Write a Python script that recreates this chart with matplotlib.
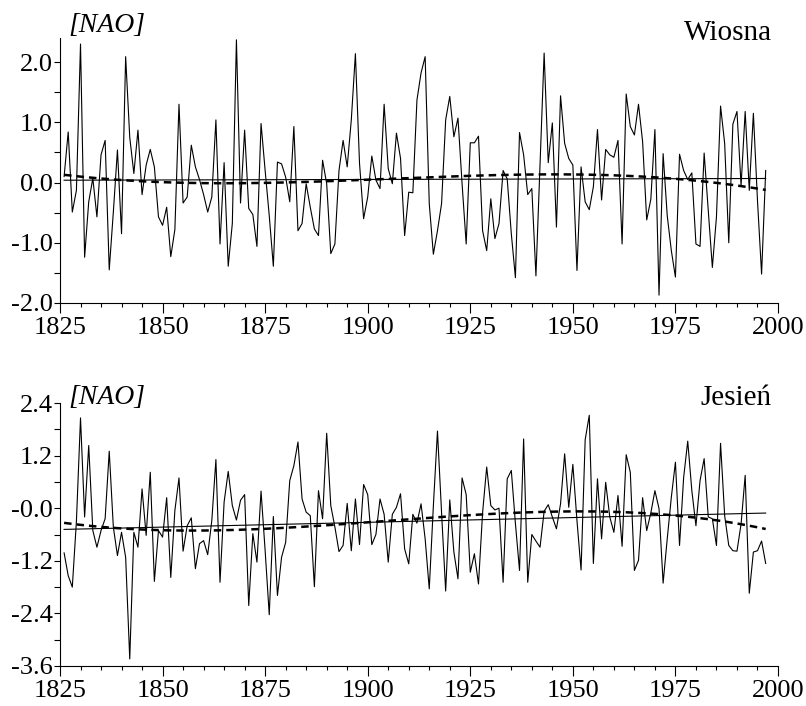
import numpy as np
import matplotlib.pyplot as plt
from matplotlib.ticker import MultipleLocator, FixedLocator, FixedFormatter

plt.rcParams['font.family'] = ['Liberation Serif', 'DejaVu Serif']
plt.rcParams['axes.unicode_minus'] = False

years = np.arange(1826, 1998)

# wiosenny indeks NAO, 1826-1997
wiosna = [
    0.10, 0.84, -0.49, -0.13, 2.30, -1.24, -0.32, 0.07, -0.57, 0.46,    # 1826-1835
    0.70, -1.45, -0.49, 0.54, -0.85, 2.09, 0.75, 0.15, 0.87, -0.20,     # 1836-1845
    0.29, 0.55, 0.26, -0.57, -0.71, -0.41, -1.23, -0.78, 1.30, -0.34,   # 1846-1855
    -0.24, 0.62, 0.26, 0.05, -0.20, -0.49, -0.24, 1.04, -1.02, 0.33,    # 1856-1865
    -1.39, -0.68, 2.37, -0.34, 0.87, -0.43, -0.53, -1.06, 0.98, 0.20,   # 1866-1875
    -0.55, -1.39, 0.34, 0.31, 0.09, -0.32, 0.93, -0.80, -0.68, -0.02,   # 1876-1885
    -0.41, -0.77, -0.88, 0.37, -0.02, -1.18, -1.02, 0.20, 0.70, 0.26,   # 1886-1895
    1.04, 2.14, 0.32, -0.60, -0.24, 0.44, 0.04, -0.10, 1.30, 0.23,      # 1896-1905
    -0.02, 0.82, 0.40, -0.88, -0.16, -0.17, 1.37, 1.82, 2.09, -0.35,    # 1906-1915
    -1.19, -0.80, -0.35, 1.04, 1.43, 0.76, 1.07, -0.02, -1.02, 0.66,    # 1916-1925
    0.66, 0.77, -0.80, -1.13, -0.27, -0.93, -0.68, 0.20, 0.06, -0.85,   # 1926-1935
    -1.58, 0.83, 0.46, -0.20, -0.10, -1.55, 0.30, 2.15, 0.33, 0.99,     # 1936-1945
    -0.74, 1.44, 0.65, 0.40, 0.29, -1.46, 0.26, -0.32, -0.45, -0.07,    # 1946-1955
    0.88, -0.29, 0.55, 0.46, 0.42, 0.70, -1.02, 1.47, 0.93, 0.79,       # 1956-1965
    1.30, 0.68, -0.62, -0.28, 0.88, -1.87, 0.48, -0.55, -1.13, -1.57,   # 1966-1975
    0.47, 0.20, 0.05, 0.16, -1.02, -1.06, 0.49, -0.46, -1.41, -0.57,    # 1976-1985
    1.27, 0.65, -1.00, 0.97, 1.18, -0.05, 1.18, -0.13, 1.15, -0.30,     # 1986-1995
    -1.52, 0.20,                                                        # 1996-1997
]

# jesienny indeks NAO, 1826-1997
jesien = [
    -1.02, -1.54, -1.80, -0.30, 2.06, -0.20, 1.43, -0.51, -0.89, -0.51,  # 1826-1835
    -0.24, 1.30, -0.43, -1.08, -0.55, -1.12, -3.44, -0.55, -0.89, 0.44,  # 1836-1845
    -0.62, 0.82, -1.67, -0.51, -0.66, 0.24, -1.58, -0.05, 0.69, -0.98,   # 1846-1855
    -0.40, -0.22, -1.38, -0.81, -0.74, -1.06, -0.28, 1.11, -1.69, 0.14,  # 1856-1865
    0.84, 0.06, -0.27, 0.18, 0.31, -2.22, -0.58, -1.23, 0.39, -0.97,     # 1866-1875
    -2.43, -0.19, -1.99, -1.12, -0.78, 0.63, 0.97, 1.51, 0.21, -0.09,    # 1876-1885
    -0.17, -1.79, 0.40, -0.24, 1.71, 0.06, -0.43, -0.99, -0.85, 0.11,    # 1886-1895
    -0.97, 0.21, -0.83, 0.54, 0.31, -0.83, -0.60, 0.21, -0.14, -1.23,    # 1896-1905
    -0.14, 0.02, 0.33, -0.93, -1.27, -0.14, -0.34, 0.10, -0.70, -1.84,   # 1906-1915
    0.05, 1.76, -0.10, -1.89, 0.19, -1.00, -1.61, 0.69, 0.31, -1.46,     # 1916-1925
    -1.04, -1.73, -0.10, 0.94, 0.06, -0.04, 0.00, -1.69, 0.67, 0.86,     # 1926-1935
    -0.35, -1.42, 1.58, -1.69, -0.60, -0.75, -0.89, -0.07, 0.08, -0.20,  # 1936-1945
    -0.47, 0.10, 1.24, 0.02, 1.00, -0.28, -1.41, 1.56, 2.12, -1.26,      # 1946-1955
    0.67, -0.70, 0.59, -0.20, -0.55, 0.29, -0.87, 1.22, 0.82, -1.42,     # 1956-1965
    -1.19, 0.24, -0.51, -0.11, 0.40, -0.01, -1.71, -0.70, 0.25, 1.05,    # 1966-1975
    -0.85, 0.70, 1.53, 0.40, -0.40, 0.63, 1.13, -0.20, -0.24, -0.85,     # 1976-1985
    1.48, -0.17, -0.85, -0.97, -0.98, -0.36, 0.75, -1.94, -1.00, -0.97,  # 1986-1995
    -0.75, -1.26,                                                        # 1996-1997
]

# podziałki i etykiety osi Y
yticks_wiosna = [-2.0, -1.0, 0.0, 1.0, 2.0]
ylabels_wiosna = ['-2.0', '-1.0', '0.0', '1.0', '2.0']
yticks_jesien = [-3.6, -2.4, -1.2, 0.0, 1.2, 2.4]
ylabels_jesien = ['-3.6', '-2.4', '-1.2', '-0.0', '1.2', '2.4']

fig = plt.figure(figsize=(8.06, 7.06), dpi=100)


def panel(rect, values, ylim, yticks, ylabels, title):
    ax = fig.add_axes(rect)
    v = np.array(values)
    ax.plot(years, v, color='black', lw=0.8)
    # trend liniowy i wielomian 3. stopnia
    lin = np.polyval(np.polyfit(years, v, 1), years)
    cub = np.polyval(np.polyfit(years - 1900, v, 3), years - 1900)
    ax.plot(years, lin, color='black', lw=0.8)
    ax.plot(years, cub, color='black', lw=1.8, ls=(0, (3, 2)))

    ax.set_xlim(1825, 2000)
    ax.set_ylim(*ylim)
    ax.xaxis.set_major_locator(MultipleLocator(25))
    ax.xaxis.set_minor_locator(MultipleLocator(5))
    ax.yaxis.set_major_locator(FixedLocator(yticks))
    ax.yaxis.set_major_formatter(FixedFormatter(ylabels))
    step = yticks[1] - yticks[0]
    ax.yaxis.set_minor_locator(FixedLocator([t + step / 2 for t in yticks[:-1]]))
    for s in ['top', 'right']:
        ax.spines[s].set_visible(False)
    ax.tick_params(axis='both', which='major', labelsize=19, direction='out', width=0.8)
    ax.tick_params(axis='x', which='major', length=7, pad=3)
    ax.tick_params(axis='x', which='minor', length=3, width=0.8)
    ax.tick_params(axis='y', which='major', length=4, pad=1)
    ax.tick_params(axis='y', which='minor', length=4, width=0.8)
    ax.text(1.0 - 6 / 718, 1.0 - 2 / 265, title, transform=ax.transAxes,
            ha='right', va='baseline', fontsize=21)
    return ax


panel([60 / 806, 1 - 303 / 706, 718 / 806, 265 / 706], wiosna, (-2.0, 2.4),
      yticks_wiosna, ylabels_wiosna, 'Wiosna')
panel([60 / 806, 1 - 666 / 706, 718 / 806, 263 / 706], jesien, (-3.6, 2.4),
      yticks_jesien, ylabels_jesien, 'Jesień')

for yb in [32, 404]:
    fig.text(68 / 806, 1 - yb / 706, '[NAO]', style='italic', fontsize=20,
             va='baseline', ha='left')

fig.savefig('out.png', dpi=100)
